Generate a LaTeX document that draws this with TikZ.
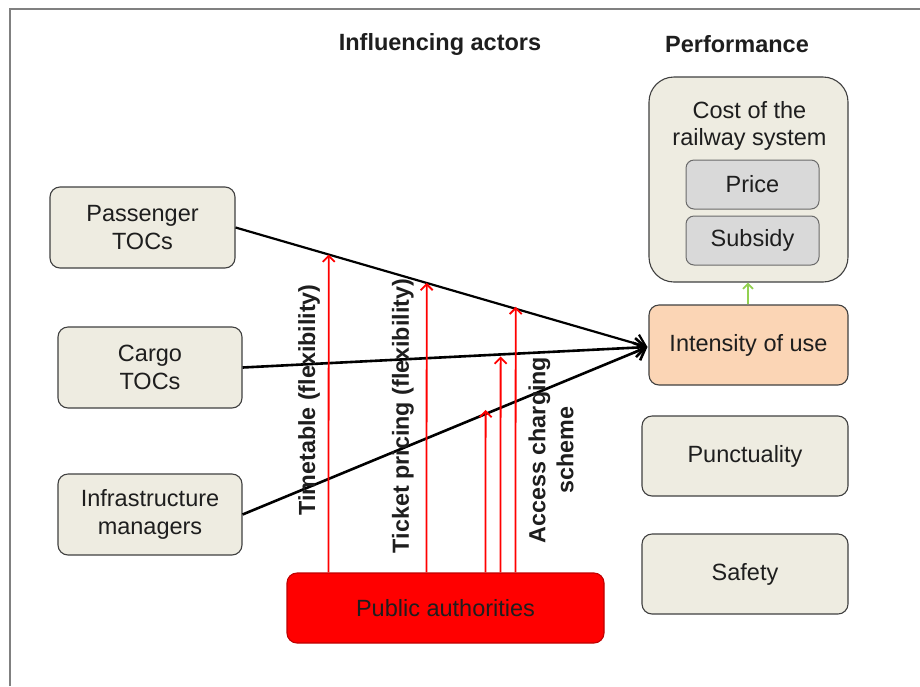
\documentclass[tikz,border=0pt]{standalone}
\usepackage{fontspec}
\setmainfont{Liberation Sans}
\usetikzlibrary{arrows.meta,calc}
\definecolor{beige}{HTML}{EEECE1}
\definecolor{boxline}{HTML}{404040}
\definecolor{greybox}{HTML}{D9D9D9}
\definecolor{greyline}{HTML}{6A6A6A}
\definecolor{peach}{HTML}{FBD5B5}
\definecolor{pubred}{HTML}{FF0000}
\definecolor{publine}{HTML}{C00000}
\definecolor{greenarrow}{HTML}{92D050}
\definecolor{txt}{HTML}{1E1E1E}
\definecolor{frame}{HTML}{808080}
\begin{document}
\begin{tikzpicture}[x=1pt,y=-1pt,
  font=\fontsize{23.5}{27.5}\selectfont,
  box/.style={draw=boxline, line width=1.1pt, fill=beige, rounded corners=10pt,
    align=center, text=txt, inner sep=0pt},
  subbox/.style={draw=greyline, line width=1pt, fill=greybox, rounded corners=8pt,
    align=center, text=txt, inner sep=0pt, minimum width=133pt, minimum height=49pt},
  heading/.style={font=\fontsize{23.5}{27}\selectfont\bfseries, text=txt},
  lbl/.style={font=\fontsize{23.3}{28}\selectfont\bfseries, text=txt, rotate=90, align=center, inner sep=0pt},
  blackline/.style={draw=black, line width=2.6pt, -{Straight Barb[length=10pt,width=19pt]}},
  redarrow/.style={draw=pubred, line width=1.8pt, -{Straight Barb[length=6pt,width=12pt]}},
  greenar/.style={draw=greenarrow, line width=1.8pt, -{Straight Barb[length=5pt,width=10pt]}}
]
\useasboundingbox (0,0) rectangle (920,686);
\fill[white] (0,0) rectangle (920,686);
% frame
\draw[frame, line width=2pt] (9.5,686) -- (9.5,9) -- (920,9);

% headings
\node[heading] (hInf) at (440,44) {Influencing actors};
\node[heading] (hPerf) at (737,44) {Performance};

% actors
\node[box, minimum width=185pt, minimum height=81pt] (pass) at (142.5,227.5) {Passenger\\TOCs};
\node[box, minimum width=184pt, minimum height=81pt] (cargo) at (150,367.5) {Cargo\\TOCs};
\node[box, minimum width=184pt, minimum height=81pt] (infra) at (150,514.5) {Infrastructure\\managers};

% performance
\node[box, rounded corners=25pt, minimum width=199pt, minimum height=205pt] (cost) at (748.5,179.5) {};
\node[text=txt, align=center, anchor=north, inner sep=0pt] (costlbl) at (749.5,101) {Cost of the\\railway system};
\node[subbox] (price) at (752.5,184.5) {Price};
\node[subbox] (subsidy) at (752.5,240.5) {Subsidy};
\node[box, fill=peach, minimum width=199pt, minimum height=80pt] (inten) at (748.5,345) {Intensity of use};
\node[box, minimum width=206pt, minimum height=80pt] (punct) at (745,456) {Punctuality};
\node[box, minimum width=206pt, minimum height=80pt] (safety) at (745,574) {Safety};

% public authorities
\node[box, fill=pubred, draw=publine, minimum width=317pt, minimum height=70pt] (pub) at (445.5,608) {Public authorities};

% green arrow
\draw[greenar] (inten.north -| 748,0) -- (cost.south -| 748,0);

% black connectors
\coordinate (tip) at ($(inten.west)+(-1,2)$);
\draw[blackline, line width=2.2pt] (pass.east) -- (tip);
\draw[blackline] (cargo.east) -- (tip);
\draw[blackline] (infra.east) -- (tip);

% red arrows
\coordinate (r1) at ($(pub.north west)+(42,0)$);
\coordinate (r2) at ($(pub.north west)+(140,0)$);
\coordinate (r3) at ($(pub.north west)+(199,0)$);
\coordinate (r4) at ($(pub.north west)+(214,0)$);
\coordinate (r5) at ($(pub.north west)+(229,0)$);
\coordinate (r1t) at (329,0);
\coordinate (r2t) at (427,0);
\coordinate (r3t) at (486,0);
\coordinate (r4t) at (501,0);
\coordinate (r5t) at (516,0);
\draw[redarrow] (r1) -- (intersection of pass.east--tip and r1--r1t);
\draw[redarrow] (r2) -- (intersection of pass.east--tip and r2--r2t);
\draw[redarrow] (r3) -- ($(intersection of infra.east--tip and r3--r3t)+(0,-4)$);
\draw[redarrow] (r4) -- ($(intersection of cargo.east--tip and r4--r4t)+(0,2)$);
\draw[redarrow] (r5) -- ($(intersection of pass.east--tip and r5--r5t)+(0,-2)$);

% rotated labels
\node[lbl] (lt) at (309,400) {Timetable (flexibility)};
\node[lbl] (lp) at (403,416) {Ticket pricing (flexibility)};
\node[lbl] (la) at (551,450) {Access charging\\scheme};
\end{tikzpicture}
\end{document}
